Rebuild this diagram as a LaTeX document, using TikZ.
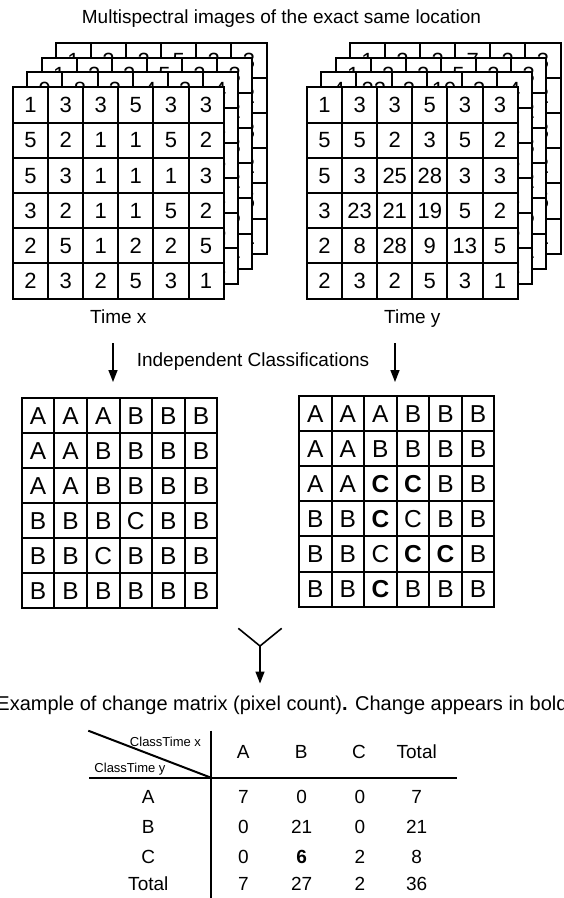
\documentclass[tikz,border=0pt]{standalone}
\usepackage{fontspec}
\setmainfont{Liberation Sans}
\usetikzlibrary{arrows.meta}
\tikzset{
  gridline/.style={line width=2pt},
  numcell/.style={inner sep=0pt, font=\fontsize{22}{25}\selectfont, text height=15.7pt, text depth=0pt},
  classcell/.style={inner sep=0pt, font=\fontsize{24.5}{28}\selectfont, text height=17.5pt, text depth=0pt},
  txt/.style={inner sep=0pt, font=\fontsize{19}{22}\selectfont, text height=13.6pt, text depth=0pt},
  captxt/.style={inner sep=0pt, font=\fontsize{20}{23}\selectfont, text height=14.3pt, text depth=0pt},
  smalltxt/.style={inner sep=0pt, font=\fontsize{13}{15}\selectfont, text height=9.3pt, text depth=0pt},
  arrowline/.style={line width=1.6pt, -{Triangle[length=12pt,width=9pt]}},
  tabline/.style={line width=1.7pt},
}
% white 6x6 grid with its lines
% #1 x0, #2 y0, #3 cell width, #4 cell height
\newcommand\gridframe[4]{%
  \fill[white] (#1,#2) rectangle ({#1+6*#3},{#2+6*#4});
  \foreach \ii in {1,...,5} {
    \draw[gridline] ({#1+\ii*#3},#2) -- ({#1+\ii*#3},{#2+6*#4});
    \draw[gridline] (#1,{#2+\ii*#4}) -- ({#1+6*#3},{#2+\ii*#4});
  }
  \draw[gridline] (#1,#2) rectangle ({#1+6*#3},{#2+6*#4});
}
% full layer: #1 prefix, #2 x0, #3 y0, #4 cw, #5 ch, #6 cell style, #7 rows
\newcommand\drawlayer[7]{%
  \gridframe{#2}{#3}{#4}{#5}
  \foreach \row [count=\rr] in {#7} {
    \foreach \v [count=\cc] in \row {
      \node[#6] (#1-\rr-\cc) at ({#2+(\cc-0.5)*#4},{#3+(\rr-0.5)*#5}) {\v};
    }
  }
}
% back layer, only the partly visible cells: #1 prefix, #2 x0, #3 y0, #4 top row, #5 last column (rows 2..6)
\newcommand\drawback[5]{%
  \gridframe{#2}{#3}{35.1}{35.2}
  \foreach \v [count=\cc] in {#4} {
    \node[numcell] (#1-1-\cc) at ({#2+(\cc-0.5)*35.1},{#3+0.5*35.2}) {\v};
  }
  \foreach \v [count=\rr from 2] in {#5} {
    \node[numcell] (#1-\rr-6) at ({#2+5.5*35.1},{#3+(\rr-0.5)*35.2}) {\v};
  }
}
\begin{document}
\begin{tikzpicture}[x=1pt,y=-1pt]
\useasboundingbox (0,0) rectangle (563,898);
\fill[white] (0,0) rectangle (563,898);

\node[txt] (title) at (281.5,17) {Multispectral images of the exact same location};

% ---- left stack (Time x)
\drawback{lx3}{55.9}{42.6}{1,2,2,5,2,3}{2,3,2,5,1}
\drawback{lx2}{41.6}{57.5}{1,2,2,5,2,3}{2,3,2,5,1}
\drawback{lx1}{27.3}{72.4}{9,8,3,4,3,4}{2,3,2,5,1}
\drawlayer{lx0}{13}{87.3}{35.1}{35.2}{numcell}{{1,3,3,5,3,3},{5,2,1,1,5,2},{5,3,1,1,1,3},{3,2,1,1,5,2},{2,5,1,2,2,5},{2,3,2,5,3,1}}
\node[txt] (timex) at (118.3,316.8) {Time x};

% ---- right stack (Time y)
\drawback{ly3}{349.9}{42.6}{1,2,2,7,2,3}{2,3,2,5,1}
\drawback{ly2}{335.6}{57.5}{1,2,2,5,2,3}{2,3,2,5,1}
\drawback{ly1}{321.3}{72.4}{4,22,2,19,3,4}{2,3,2,5,1}
\drawlayer{ly0}{307}{87.3}{35.1}{35.2}{numcell}{{1,3,3,5,3,3},{5,5,2,3,5,2},{5,3,25,28,3,3},{3,23,21,19,5,2},{2,8,28,9,13,5},{2,3,2,5,3,1}}
\node[txt] (timey) at (412.3,316.8) {Time y};

% ---- classification arrows
\coordinate (la1) at (113,343);
\coordinate (la2) at (113,382);
\coordinate (ra1) at (395,343);
\coordinate (ra2) at (395,382);
\draw[arrowline] (la1) -- (la2);
\draw[arrowline] (ra1) -- (ra2);
\node[txt] (indep) at (253,360) {Independent Classifications};

% ---- classified grids
\drawlayer{cx}{21.7}{398.3}{32.6}{35}{classcell}{{A,A,A,B,B,B},{A,A,B,B,B,B},{A,A,B,B,B,B},{B,B,B,C,B,B},{B,B,C,B,B,B},{B,B,B,B,B,B}}
\drawlayer{cy}{299}{396}{32.55}{35.1}{classcell}{{A,A,A,B,B,B},{A,A,B,B,B,B},{A,A,\textbf{C},\textbf{C},B,B},{B,B,\textbf{C},C,B,B},{B,B,C,\textbf{C},\textbf{C},B},{B,B,\textbf{C},B,B,B}}

% ---- merge arrow
\coordinate (m1) at (238.3,628.3);
\coordinate (m2) at (281.7,628.3);
\coordinate (mj) at (260,646);
\coordinate (me) at (260,683.5);
\draw[line width=1.6pt] (m1) -- (mj) -- (m2);
\draw[arrowline] (mj) -- (me);

\node[captxt] (caption) at (282,703.5) {Example of change matrix (pixel count)\textbf{.} Change appears in bold};

% ---- change matrix table
\coordinate (tv1) at (211,730.7);
\coordinate (tv2) at (211,898);
\coordinate (th1) at (89.3,777.7);
\coordinate (th2) at (457.3,777.7);
\coordinate (tc) at (211,777.7);
\coordinate (td1) at (88.3,730.7);
\draw[tabline] (tv1) -- (tv2);
\draw[tabline] (th1) -- (th2);
\draw[line width=2pt] (td1) -- (tc);
\node[smalltxt] (ctx) at (165.5,741.7) {ClassTime x};
\node[smalltxt] (cty) at (130,768.3) {ClassTime y};

\foreach \t [count=\k] in {A,B,C,Total} {
  \node[txt] (hd-\k) at ({243.3+(\k-1)*57.8},751.7) {\t};
}
\foreach \lab/\yy/\a/\b/\c/\d [count=\k] in {A/796.7/7/0/0/7, B/826.7/0/21/0/21, C/856.7/0/\textbf{6}/2/8, Total/884/7/27/2/36} {
  \node[txt] (rl-\k) at (148.3,\yy) {\lab};
  \node[txt] (v-\k-1) at (243.3,\yy) {\a};
  \node[txt] (v-\k-2) at (301.7,\yy) {\b};
  \node[txt] (v-\k-3) at (360,\yy) {\c};
  \node[txt] (v-\k-4) at (416.7,\yy) {\d};
}
\end{tikzpicture}
\end{document}
